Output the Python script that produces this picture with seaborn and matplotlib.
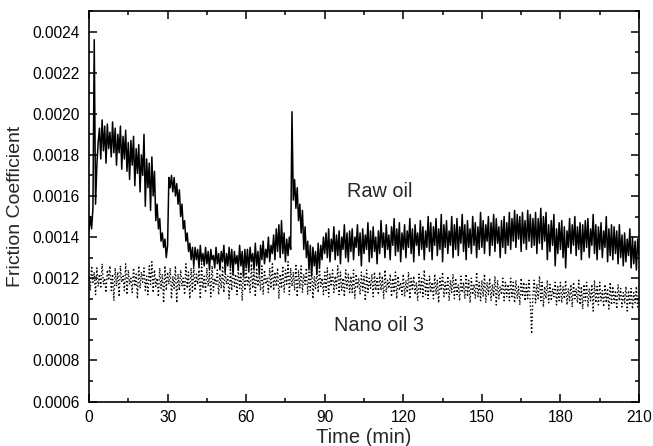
import numpy as np
import pandas as pd
import matplotlib
matplotlib.use("Agg")
import matplotlib.pyplot as plt
from matplotlib.ticker import MultipleLocator, FormatStrFormatter
import seaborn as sns

# Time axis (min), sampled every 0.5 min from 0 to 210
time_min = np.arange(0, 210.5, 0.5)

# Friction coefficient values in units of 1e-4
raw_oil_e4 = [
    14.3, 15.0, 14.4, 15.4, 23.6, 15.6, 17.5, 18.6, 19.3, 17.8, 19.7, 18.2, 19.4, 17.6, 19.5, 18.3, 19.1, 17.9, 19.6, 18.1,
    19.3, 17.5, 19.0, 18.1, 19.4, 17.3, 18.9, 17.8, 19.2, 17.2, 18.6, 16.8, 18.7, 17.5, 18.9, 16.5, 18.3, 17.1, 18.5, 16.2,
    18.0, 17.0, 19.0, 15.5, 17.8, 16.4, 17.6, 15.3, 17.9, 16.0, 17.2, 14.8, 15.6, 14.4, 14.9, 13.8, 14.2, 13.5, 13.9, 13.0,
    13.6, 16.9, 16.4, 17.0, 16.2, 16.9, 16.0, 16.6, 15.6, 16.3, 15.0, 15.6, 14.4, 14.8, 13.8, 14.2, 13.3, 13.7, 12.9, 13.5,
    12.6, 13.5, 12.9, 13.4, 12.5, 13.6, 12.8, 13.2, 12.6, 13.5, 12.7, 13.3, 12.4, 13.4, 12.9, 13.1, 12.5, 13.5, 12.7, 13.2,
    12.4, 13.3, 12.8, 13.6, 12.3, 13.2, 12.6, 13.5, 12.5, 13.4, 12.2, 13.3, 12.7, 13.1, 12.4, 13.6, 12.6, 13.3, 12.1, 13.4,
    12.5, 13.4, 12.3, 13.5, 12.8, 13.2, 12.4, 13.7, 12.6, 13.3, 12.2, 13.6, 12.9, 13.8, 12.7, 13.4, 13.0, 14.0, 12.8, 13.6,
    13.2, 14.1, 12.9, 14.4, 13.3, 14.6, 13.0, 14.8, 13.2, 14.2, 12.8, 13.9, 13.1, 14.0, 13.4, 20.1, 15.8, 16.8, 15.4, 16.4,
    14.8, 15.6, 14.2, 15.3, 13.4, 14.5, 13.0, 13.8, 12.4, 13.6, 12.1, 13.5, 12.6, 13.3, 12.2, 13.7, 12.5, 13.6, 12.9, 14.0,
    13.2, 14.2, 13.0, 14.4, 12.8, 13.9, 13.3, 14.5, 12.9, 14.1, 13.1, 14.3, 12.7, 14.0, 13.4, 14.6, 13.0, 14.2, 12.8, 14.3,
    13.3, 14.4, 12.9, 14.0, 13.5, 14.6, 13.1, 14.2, 12.6, 14.4, 13.2, 14.1, 13.4, 14.7, 12.8, 14.3, 13.0, 14.5, 13.3, 14.0,
    12.7, 14.3, 13.2, 14.8, 13.5, 14.2, 13.0, 14.6, 13.4, 14.1, 12.9, 14.5, 13.6, 14.9, 13.1, 14.4, 13.3, 14.7, 12.8, 14.2,
    13.4, 14.6, 13.0, 14.3, 13.5, 14.9, 13.2, 14.4, 12.8, 14.6, 13.6, 14.2, 13.1, 14.8, 13.4, 14.5, 12.9, 14.3, 13.5, 15.0,
    13.3, 14.7, 12.9, 14.5, 13.6, 14.9, 13.1, 14.4, 13.4, 15.1, 12.8, 14.6, 13.5, 14.8, 13.2, 14.3, 13.6, 15.0, 13.0, 14.6,
    13.4, 14.9, 13.1, 14.5, 13.7, 15.1, 13.3, 14.6, 12.9, 14.8, 13.5, 14.4, 13.2, 15.0, 13.6, 14.7, 13.0, 14.5, 13.4, 15.2,
    13.5, 14.8, 13.2, 14.6, 13.8, 15.0, 13.1, 14.7, 13.6, 15.1, 13.3, 14.9, 13.7, 14.5, 13.0, 14.8, 13.5, 15.0, 13.2, 14.7,
    13.6, 15.2, 13.4, 14.9, 13.8, 15.3, 13.5, 15.1, 13.9, 15.0, 13.3, 15.2, 13.7, 14.8, 13.4, 15.3, 13.8, 15.1, 13.5, 14.9,
    13.6, 15.2, 13.2, 14.9, 13.7, 15.4, 13.4, 15.0, 13.8, 15.2, 12.9, 14.6, 13.3, 14.8, 13.6, 15.1, 12.6, 14.4, 13.2, 14.7,
    13.4, 14.8, 13.0, 14.5, 12.5, 14.3, 13.5, 14.9, 13.2, 14.6, 13.6, 15.0, 13.1, 14.5, 13.4, 14.7, 12.9, 14.6, 13.3, 14.8,
    13.5, 14.9, 13.0, 14.4, 13.6, 15.1, 13.2, 14.6, 12.9, 14.5, 13.4, 14.7, 13.0, 14.3, 13.5, 15.0, 12.8, 14.4, 13.1, 14.6,
    12.9, 14.5, 13.2, 14.3, 12.7, 14.6, 13.0, 14.1, 12.6, 14.2, 12.8, 13.9, 13.1, 14.4, 12.5, 14.0, 12.7, 13.8, 12.4, 13.9, 13.1,
]

nano_oil3_e4 = [
    12.1, 11.4, 12.6, 11.8, 12.3, 11.2, 12.5, 11.6, 12.2, 11.5, 12.7, 11.7, 12.0, 11.3, 12.4, 11.9, 12.6, 11.4, 12.2, 10.9,
    12.5, 11.6, 12.3, 11.1, 12.6, 11.8, 12.1, 11.4, 12.7, 11.2, 12.4, 11.7, 12.0, 11.3, 12.5, 11.6, 12.2, 11.0, 12.6, 11.5,
    12.3, 11.8, 12.5, 11.4, 12.1, 11.2, 12.6, 11.7, 12.8, 11.3, 12.4, 11.6, 12.0, 11.1, 12.5, 11.5, 12.2, 10.8, 12.6, 11.4,
    12.3, 11.7, 12.5, 11.0, 12.1, 11.5, 12.6, 10.8, 12.2, 11.4, 12.4, 11.6, 12.0, 11.2, 12.7, 11.5, 12.3, 11.0, 12.5, 11.3,
    12.6, 11.4, 12.2, 11.7, 12.4, 11.0, 12.7, 11.5, 12.1, 11.3, 12.5, 11.6, 12.3, 11.1, 12.6, 11.4, 12.0, 11.7, 12.4, 11.2,
    12.2, 11.5, 12.6, 11.3, 12.4, 11.7, 12.1, 11.0, 12.5, 11.4, 12.7, 11.6, 12.2, 11.2, 12.5, 11.5, 12.3, 10.9, 12.6, 11.4,
    12.4, 11.6, 12.1, 11.3, 12.7, 11.5, 12.3, 11.1, 12.5, 11.6, 12.2, 11.4, 12.6, 11.2, 12.4, 11.7, 12.0, 11.3, 12.5, 11.5,
    12.7, 11.4, 12.3, 11.6, 12.5, 11.0, 12.2, 11.5, 12.6, 11.3, 12.4, 11.7, 12.8, 11.2, 12.5, 11.6, 12.3, 11.4, 12.7, 11.1,
    12.4, 11.5, 12.6, 11.3, 12.2, 11.7, 12.5, 11.2, 12.3, 11.4, 12.6, 11.0, 12.1, 11.5, 12.4, 11.3, 12.5, 11.6, 12.0, 11.2,
    12.3, 11.4, 12.5, 11.1, 12.2, 11.6, 12.4, 11.3, 12.1, 11.5, 12.6, 11.2, 12.3, 11.4, 12.0, 11.1, 12.4, 11.5, 12.2, 11.3,
    12.1, 11.3, 12.4, 11.0, 12.2, 11.5, 12.0, 11.2, 12.3, 11.4, 12.1, 10.9, 12.4, 11.3, 12.0, 11.5, 12.2, 11.1, 12.3, 11.4,
    12.0, 11.2, 12.3, 11.4, 12.1, 11.0, 12.4, 11.3, 11.9, 11.5, 12.2, 11.1, 12.0, 11.3, 12.3, 11.0, 12.1, 11.4, 11.8, 11.2,
    12.2, 11.1, 11.9, 11.3, 12.3, 11.0, 12.0, 11.4, 12.1, 11.2, 11.8, 10.9, 12.2, 11.3, 12.0, 11.1, 12.4, 11.2, 11.9, 11.0,
    12.1, 11.3, 11.8, 11.0, 12.2, 11.2, 11.9, 10.8, 12.0, 11.4, 12.3, 11.1, 11.8, 11.2, 12.1, 10.9, 11.9, 11.3, 12.2, 11.0,
    12.0, 11.2, 11.7, 10.9, 12.1, 11.3, 11.8, 11.0, 12.2, 11.1, 11.9, 10.8, 12.0, 11.2, 11.7, 11.0, 12.3, 11.1, 11.8, 10.9,
    11.9, 11.1, 12.2, 10.8, 11.8, 11.2, 12.0, 10.9, 11.7, 11.1, 12.1, 10.7, 11.9, 11.0, 11.6, 11.2, 12.0, 10.9, 11.8, 11.1,
    11.7, 10.9, 12.0, 11.1, 11.8, 10.8, 11.9, 11.0, 11.6, 10.7, 12.0, 11.1, 11.8, 10.9, 11.7, 11.0, 11.9, 10.8, 9.3, 11.2,
    11.9, 10.8, 11.7, 11.0, 12.1, 10.9, 11.8, 10.6, 11.6, 11.0, 11.9, 10.8, 11.7, 10.9, 11.5, 11.1, 11.8, 10.7, 11.6, 10.9,
    11.8, 10.8, 11.6, 11.0, 11.9, 10.7, 11.5, 10.9, 11.7, 10.6, 11.8, 11.0, 11.5, 10.8, 11.9, 10.7, 11.6, 10.5, 11.7, 10.9,
    11.8, 10.6, 11.5, 10.9, 11.7, 10.4, 11.9, 10.8, 11.6, 10.7, 11.8, 10.9, 11.4, 10.6, 11.7, 10.8, 11.5, 10.5, 11.8, 10.7,
    11.6, 10.8, 11.4, 10.5, 11.7, 10.9, 11.5, 10.6, 11.3, 10.8, 11.6, 10.4, 11.4, 10.7, 11.5, 10.5, 11.3, 10.8, 11.6, 10.6, 11.1,
]

x_ticks = [0, 30, 60, 90, 120, 150, 180, 210]
y_ticks = [0.0006, 0.0008, 0.0010, 0.0012, 0.0014, 0.0016, 0.0018, 0.0020, 0.0022, 0.0024]

df = pd.DataFrame({
    "time": time_min,
    "raw": np.array(raw_oil_e4) * 1e-4,
    "nano": np.array(nano_oil3_e4) * 1e-4,
})

sns.set_style("ticks")
plt.rcParams["font.family"] = ["Liberation Sans", "DejaVu Sans"]

fig = plt.figure(figsize=(6.53, 4.46), dpi=100)
ax = fig.add_axes([89 / 653, 1 - 401.5 / 446, 550 / 653, 390.5 / 446])

sns.lineplot(data=df, x="time", y="nano", ax=ax, color="black", lw=1.0,
             linestyle=":", estimator=None, sort=False)
sns.lineplot(data=df, x="time", y="raw", ax=ax, color="black", lw=1.1,
             estimator=None, sort=False)

ax.set_xlim(0, 210)
ax.set_ylim(0.0006, 0.0025)
ax.set_xticks(x_ticks)
ax.set_yticks(y_ticks)
ax.xaxis.set_minor_locator(MultipleLocator(15))
ax.yaxis.set_minor_locator(MultipleLocator(0.0001))
ax.yaxis.set_major_formatter(FormatStrFormatter("%.4f"))

ax.tick_params(which="both", direction="in", top=True, right=True,
               labeltop=False, labelright=False, width=1.1, colors="black")
ax.tick_params(which="major", length=5.5, labelsize=11.2)
ax.tick_params(axis="y", which="major", pad=6.5)
ax.tick_params(axis="x", which="major", pad=6)
ax.tick_params(which="minor", length=3)
for s in ax.spines.values():
    s.set_linewidth(1.2)
    s.set_color("black")

ax.set_xlabel("Time (min)", fontsize=14.5, labelpad=2)
ax.set_ylabel("Friction Coefficient", fontsize=14, labelpad=6)

ax.text(98.5, 0.00162, "Raw oil", fontsize=14.3, ha="left", va="center")
ax.text(93.5, 0.00097, "Nano oil 3", fontsize=14.3, ha="left", va="center")

fig.savefig("out.png", dpi=100)
